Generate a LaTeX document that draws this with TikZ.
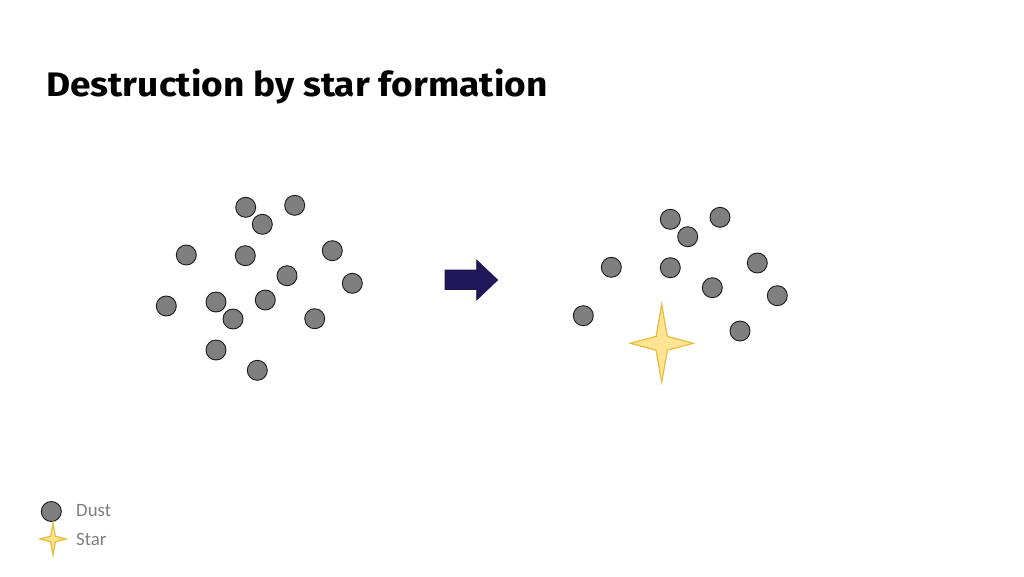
\documentclass[tikz,border=0pt]{standalone}
\usepackage{fontspec}
\setmainfont{Carlito}
\newfontfamily\titlefont{Fira Sans}[Ligatures=NoCommon]
\definecolor{dustgray}{HTML}{7F7F7F}
\definecolor{dustedge}{HTML}{1A1A1A}
\definecolor{starfill}{HTML}{FFE593}
\definecolor{staredge}{HTML}{E9BC3A}
\definecolor{arrowblue}{RGB}{32,24,88}
\definecolor{legendtext}{HTML}{7F7F7F}
\tikzset{
  dust/.style={circle, minimum size=20pt, inner sep=0pt, fill=dustgray, draw=dustedge, line width=0.9pt},
  starshape/.style={fill=starfill, draw=staredge, line width=0.9pt, line join=miter},
  legendlabel/.style={anchor=base west, inner sep=0pt, text=legendtext, font=\fontsize{18.8}{20}\selectfont},
  titletext/.style={anchor=base west, inner sep=0pt, font=\titlefont\bfseries\fontsize{34}{38}\selectfont}
}
\newcommand{\fourstar}[4]{% cx, cy, half width, half height
  \fill[starshape] (#1+#3,#2) -- (#1+0.177*#3,#2+0.177*#4) -- (#1,#2+#4) -- (#1-0.177*#3,#2+0.177*#4)
    -- (#1-#3,#2) -- (#1-0.177*#3,#2-0.177*#4) -- (#1,#2-#4) -- (#1+0.177*#3,#2-0.177*#4) -- cycle;
  \draw[starshape, fill=none] (#1+#3,#2) -- (#1+0.177*#3,#2+0.177*#4) -- (#1,#2+#4) -- (#1-0.177*#3,#2+0.177*#4)
    -- (#1-#3,#2) -- (#1-0.177*#3,#2-0.177*#4) -- (#1,#2-#4) -- (#1+0.177*#3,#2-0.177*#4) -- cycle;}
\begin{document}
\begin{tikzpicture}[x=1pt,y=-1pt]
\useasboundingbox[fill=white] (0,0) rectangle (1024,576);
% title
\node[titletext] (title) at (46,96) {\scalebox{1.09}[1]{Destruction by star formation}};
% left cluster
\foreach \n/\x/\y in {l1/245.7/207.3, l2/294.7/205.3, l3/262.3/224.3, l4/186.3/255, l5/245.3/255.7,
  l6/332.3/250.7, l7/287/275.7, l8/352.3/283.3, l9/166.3/306, l10/216/302, l11/265.3/300,
  l12/233/319, l13/314.7/318.7, l14/216/350, l15/257.3/370.3}
  \node[dust] (\n) at (\x,\y) {};
% arrow
\fill[arrowblue, draw=arrowblue!85!black, line width=0.6pt]
  (445,270) -- (476.7,270) -- (476.7,260) -- (497.7,280) -- (476.7,300) -- (476.7,289.5) -- (445,289.5) -- cycle;
% right cluster
\foreach \n/\x/\y in {r1/670.3/219.3, r2/720/217.3, r3/687.7/236.7, r4/611.3/267.3, r5/670.3/267.7,
  r6/757.3/263, r7/712.3/287.7, r8/777.3/295.7, r9/583.3/315.7, r10/740/331}
  \node[dust] (\n) at (\x,\y) {};
% star
\fourstar{661.7}{343.3}{31.5}{39}
% legend
\node[dust] (legdust) at (51.3,511.5) {};
\node[legendlabel] (dustlabel) at (76,516) {Dust};
\fourstar{53}{539}{13}{16}
\node[legendlabel] (starlabel) at (76,545.3) {Star};
\end{tikzpicture}
\end{document}
